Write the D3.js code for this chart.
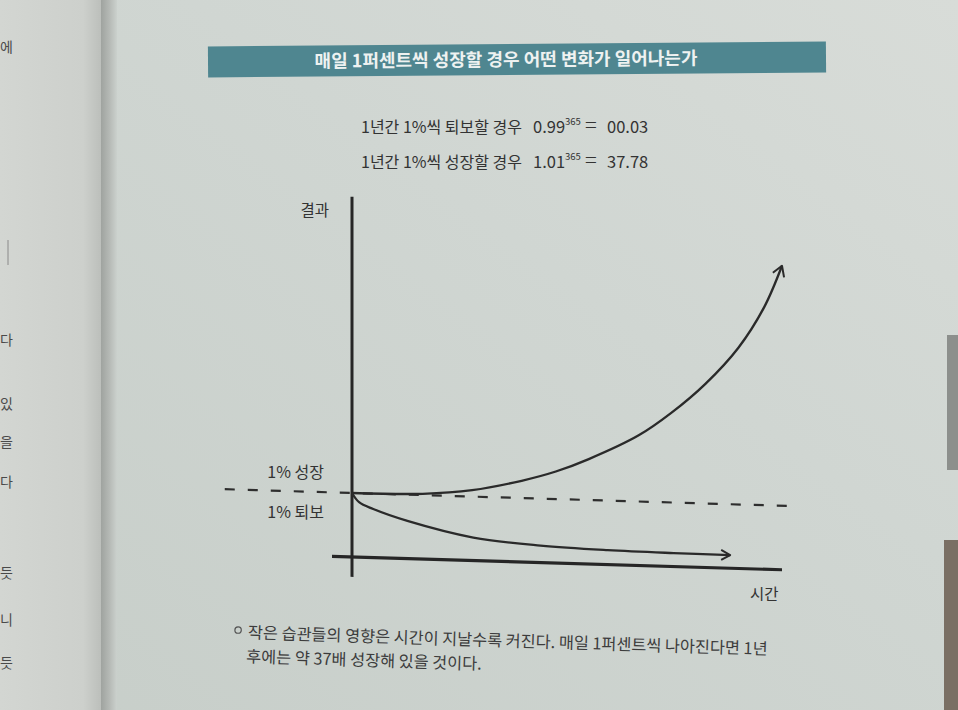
<!DOCTYPE html>
<html><head><meta charset="utf-8">
<script src="https://cdn.jsdelivr.net/npm/d3@7"></script>
<style>
html,body{margin:0;padding:0;background:#cfd5d1;}
svg{display:block;}
text{font-family:"Noto Sans CJK KR","Noto Sans",sans-serif;}
</style></head>
<body>
<svg id="c" width="958" height="710"></svg>
<script>
// ---------- data ----------
const titleText = "매일 1퍼센트씩 성장할 경우 어떤 변화가 일어나는가";
const formulaLabels = ["1년간 1%씩 퇴보할 경우", "1년간 1%씩 성장할 경우"];
const formulaBases = ["0.99", "1.01"];
const formulaExponent = "365";
const formulaResults = ["00.03", "37.78"];
const axisLabels = {y: "결과", x: "시간"};
const levelLabels = ["1% 성장", "1% 퇴보"];
const captionLines = [
  "작은 습관들의 영향은 시간이 지날수록 커진다. 매일 1퍼센트씩 나아진다면 1년",
  "후에는 약 37배 성장해 있을 것이다."
];
// growth curve (days, relative result)
const growthDays   = [0, 60, 102, 144, 173, 201, 243, 271, 300, 328, 350, 365];
const growthValues = [1.0, 1.02, 1.10, 1.27, 1.43, 1.64, 2.03, 2.40, 2.87, 3.45, 4.10, 4.75];
// decline curve
const declineDays   = [0, 6, 18, 47, 103, 160, 217, 273, 321];
const declineValues = [1.0, 0.86, 0.76, 0.59, 0.36, 0.265, 0.225, 0.21, 0.205];
// dashed reference level
const baselineDays = [-108, 372];
const baselineValue = 1;
// axes extents
const xAxisDays = [-17, 365];
const yAxisValues = [-0.31, 5.63];
// left-page fragments
const leftPageChars = ["에","다","있","을","다","듯","니","듯"];
const leftPageY = [52, 345, 409, 447, 487, 578, 625, 668];

// ---------- drawing ----------
const svg = d3.select("#c");
const defs = svg.append("defs");

// page background
const bg = defs.append("linearGradient").attr("id","pg").attr("x1","0").attr("y1","1").attr("x2","1").attr("y2","0");
bg.append("stop").attr("offset","0").attr("stop-color","#c7cec9");
bg.append("stop").attr("offset","0.6").attr("stop-color","#d0d6d2");
bg.append("stop").attr("offset","1").attr("stop-color","#d8dcd8");
svg.append("rect").attr("width",958).attr("height",710).attr("fill","url(#pg)");

// left page
const lp = defs.append("linearGradient").attr("id","lp").attr("x1","0").attr("x2","1");
lp.append("stop").attr("offset","0").attr("stop-color","#d3d6d2");
lp.append("stop").attr("offset","0.8").attr("stop-color","#cdd0cc");
lp.append("stop").attr("offset","1").attr("stop-color","#b9bcb8");
svg.append("rect").attr("width",104).attr("height",710).attr("fill","url(#lp)");
const gut = defs.append("linearGradient").attr("id","gut").attr("x1","0").attr("x2","1");
gut.append("stop").attr("offset","0").attr("stop-color","#9fa39f");
gut.append("stop").attr("offset","0.5").attr("stop-color","#b4b8b4");
gut.append("stop").attr("offset","1").attr("stop-color","#cbd1cd");
svg.append("rect").attr("x",101).attr("width",16).attr("height",710).attr("fill","url(#gut)");
svg.append("g").selectAll("text").data(leftPageChars).join("text")
  .attr("x",0).attr("y",(d,i)=>leftPageY[i]).attr("font-size",14).attr("fill","#4a4a4a").text(d=>d);
svg.append("line").attr("x1",8).attr("x2",8).attr("y1",240).attr("y2",265).attr("stroke","#8a8a8a").attr("stroke-width",1);
// right edge (table)
svg.append("rect").attr("x",947).attr("y",335).attr("width",11).attr("height",135).attr("fill","#8c8f8c");
svg.append("rect").attr("x",944).attr("y",540).attr("width",14).attr("height",170).attr("fill","#7a6f64");

// title band
const tg = svg.append("g").attr("transform","rotate(-0.45 517 59)");
tg.append("rect").attr("x",208).attr("y",44).attr("width",618).attr("height",31).attr("fill","#4f8690");
tg.append("text").attr("x",506).attr("y",66).attr("text-anchor","middle")
  .attr("font-size",18).attr("font-weight","bold").attr("fill","#eef2f1").text(titleText);

// formulas
formulaLabels.forEach((lab,i)=>{
  const t = svg.append("text").attr("y",133+35*i).attr("font-size",16).attr("fill","#333");
  t.append("tspan").attr("x",361).text(lab);
  t.append("tspan").attr("x",533).attr("font-size",16.5).text(formulaBases[i]);
  t.append("tspan").attr("dy",-8).attr("font-size",9.5).text(formulaExponent);
  t.append("tspan").attr("dy",8).attr("x",585).attr("font-size",22).attr("font-weight","300").text("=");
  t.append("tspan").attr("x",607).attr("font-size",16.5).text(formulaResults[i]);
});

// chart scales
const x = d3.scaleLinear().domain([0,365]).range([352,782]);
const y = d3.scaleLinear().domain([0,1]).range([557,493]);

const chart = svg.append("g").attr("transform","translate(352,493) skewY(1.7) translate(-352,-493)");

// arrow markers
[["big",10,6],["small",9,5]].forEach(([id,l,w])=>{
  defs.append("marker").attr("id","arr-"+id).attr("viewBox","-12 -8 14 16")
    .attr("refX",0).attr("refY",0).attr("markerWidth",14).attr("markerHeight",16)
    .attr("markerUnits","userSpaceOnUse").attr("orient","auto")
    .append("path").attr("d",`M${-l},${-w} L0,0 L${-l},${w}`)
    .attr("fill","none").attr("stroke","#2a2a2a").attr("stroke-width",2).attr("stroke-linejoin","round");
});

// dashed baseline
chart.append("line")
  .attr("x1",x(baselineDays[0])).attr("x2",x(baselineDays[1]))
  .attr("y1",y(baselineValue)).attr("y2",y(baselineValue))
  .attr("stroke","#2e2e2e").attr("stroke-width",2.2).attr("stroke-dasharray","10,13");

// axes
chart.append("line").attr("x1",x(0)).attr("x2",x(0))
  .attr("y1",y(yAxisValues[0])).attr("y2",y(yAxisValues[1]))
  .attr("stroke","#262626").attr("stroke-width",3);
chart.append("line").attr("x1",x(xAxisDays[0])).attr("x2",x(xAxisDays[1]))
  .attr("y1",y(0)).attr("y2",y(0))
  .attr("stroke","#262626").attr("stroke-width",3.2);

const line = d3.line().x(d=>x(d[0])).y(d=>y(d[1])).curve(d3.curveCatmullRom.alpha(0.5));
chart.append("path").datum(growthDays.map((d,i)=>[d,growthValues[i]]))
  .attr("d",line).attr("fill","none").attr("stroke","#2a2a2a").attr("stroke-width",2.3)
  .attr("marker-end","url(#arr-big)");
chart.append("path").datum(declineDays.map((d,i)=>[d,declineValues[i]]))
  .attr("d",line).attr("fill","none").attr("stroke","#2a2a2a").attr("stroke-width",2.3)
  .attr("marker-end","url(#arr-small)");

// axis labels
svg.append("text").attr("x",329).attr("y",216).attr("text-anchor","end").attr("font-size",15.5).attr("fill","#333").text(axisLabels.y);
svg.append("text").attr("x",750).attr("y",600).attr("font-size",15.5).attr("fill","#333").text(axisLabels.x);
levelLabels.forEach((t,i)=>{
  svg.append("text").attr("x",324).attr("y",478+40*i).attr("text-anchor","end")
    .attr("font-size",16).attr("fill","#333").text(t);
});

// caption
const cg = svg.append("g").attr("transform","rotate(1.8 236 633)");
cg.append("circle").attr("cx",238).attr("cy",630).attr("r",3.2).attr("fill","none").attr("stroke","#555").attr("stroke-width",1.2);
captionLines.forEach((t,i)=>{
  cg.append("text").attr("x",i===0?248:247).attr("y",638+24*i).attr("font-size",16.3).attr("fill","#3c3c3c").text(t);
});
</script>
</body></html>
